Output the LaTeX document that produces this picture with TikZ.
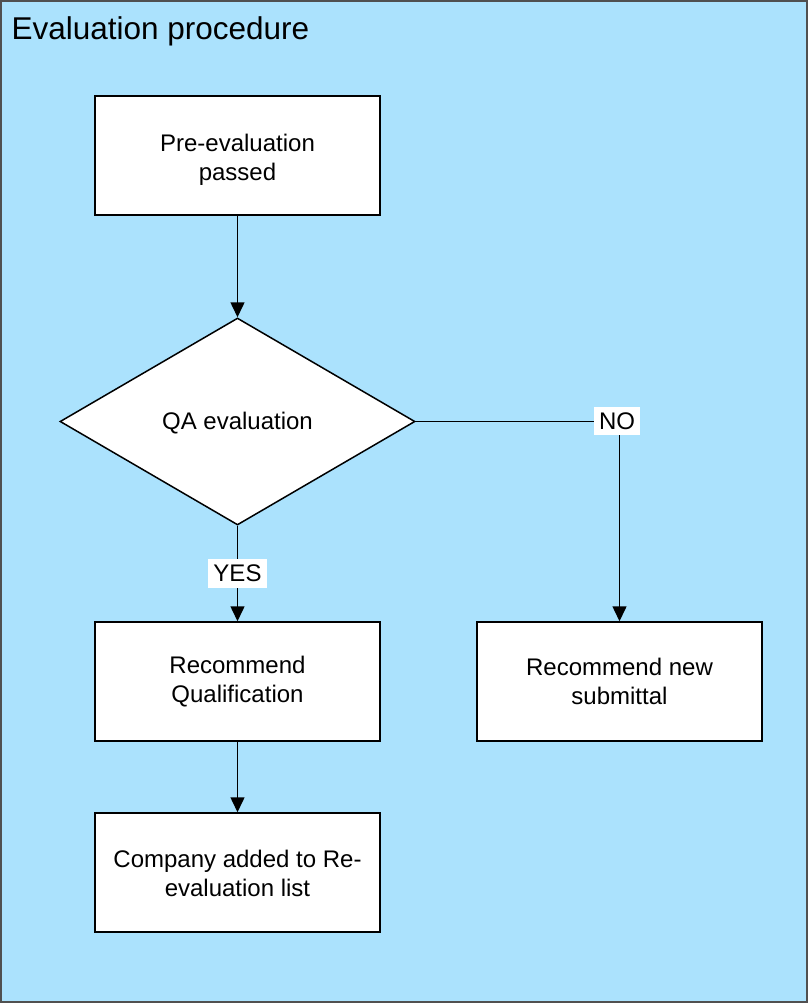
\documentclass[tikz,border=0pt]{standalone}
\usepackage{fontspec}
\setmainfont{Liberation Sans}
\usetikzlibrary{arrows.meta,shapes.geometric}
\definecolor{bg}{RGB}{171,226,253}
\definecolor{frame}{RGB}{80,80,80}
\newcommand{\padtop}[1]{\raisebox{0pt}[\dimexpr\height+#1\relax][\depth]}
\begin{document}
\begin{tikzpicture}[x=1pt,y=-1pt,
  txt/.style={font=\fontsize{24}{29}\selectfont},
  box/.style={txt, draw=black, fill=white, line width=1.5pt, minimum width=285pt, minimum height=119pt, align=center, inner sep=0pt},
  dia/.style={txt, draw=black, fill=white, line width=1.5pt, diamond, minimum width=355pt, minimum height=207pt, inner sep=0pt},
  arr/.style={-{Triangle[width=14pt,length=15pt]}, line width=1.5pt},
  lbl/.style={txt, fill=white, inner xsep=5pt, inner ysep=6pt}]
\useasboundingbox (0,0) rectangle (808,1003);
\draw[fill=bg, draw=frame, line width=2pt] (1,1) rectangle (807,1002);
\node[anchor=base west, font=\fontsize{31.5}{36}\selectfont] (title) at (8,40) {Evaluation procedure};
\node[box] (pre) at (237.5,155.5) {\padtop{8pt}{Pre-evaluation}\\passed};
\node[dia] (qa) at (237.5,421.5) {\padtop{4pt}{QA evaluation}};
\node[box] (rec) at (237.5,681.5) {\padtop{1pt}{Recommend}\\Qualification};
\node[box] (new) at (619.5,681.5) {Recommend new\\submittal};
\node[box] (comp) at (237.5,872.5) {\padtop{1pt}{Company added to Re-}\\evaluation list};
\draw[arr] (pre.south) -- (qa.north);
\draw[arr] (qa.south) -- (rec.north);
\draw[arr] (qa.east) -| (new.north);
\draw[arr] (rec.south) -- (comp.north);
\node[lbl] (yes) at (237.5,573) {YES};
\node[lbl] (no) at (617,421) {NO};
\end{tikzpicture}
\end{document}
